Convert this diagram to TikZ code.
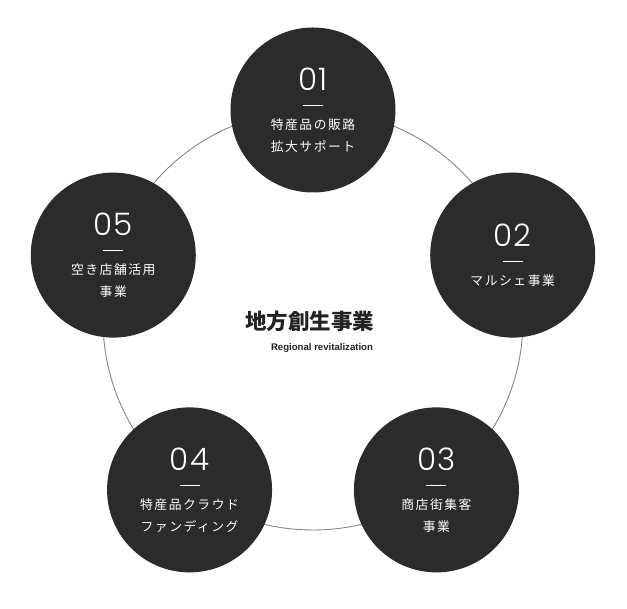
\documentclass[tikz,border=0pt]{standalone}
\usepackage{fontspec}
\setmainfont{Noto Sans CJK JP}
\newfontfamily\numfont{Poppins}[UprightFont=* Light]
\newfontfamily\latinfont{Liberation Sans}

\begin{document}
\begin{tikzpicture}[x=1pt,y=1pt,
  tappa/.style={circle, fill=colDisco, text=white, minimum size=165pt, inner sep=0pt,
    align=center, font=\fontsize{12.8}{22}\selectfont\addfontfeature{LetterSpace=12}},
  anello/.style={draw=colAnello, line width=0.9pt}]

% Colori
\definecolor{colDisco}{HTML}{2B2B2B}
\definecolor{colAnello}{HTML}{858585}
\definecolor{colTitolo}{HTML}{222222}

% Raggio del cerchio grande
\def\R{210}

% Numero e trattino
\newcommand{\numero}[1]{{\numfont\fontsize{31}{31}\selectfont\addfontfeature{LetterSpace=4}#1}\\[-2pt]\rule[4pt]{20pt}{1.4pt}\\[-3pt]}

\useasboundingbox (-313,-289) rectangle (314,320);

% Cerchio grande
\coordinate (centro) at (0,0);
\draw[anello] (centro) circle (\R);

% Titolo
\node[font=\fontsize{21.5}{21.5}\selectfont\bfseries, text=colTitolo] (titolo) at (-3,-1) {地方創生事業};
\node[font=\latinfont\fontsize{9.6}{9.6}\selectfont\bfseries, text=colTitolo] (sottotitolo) at (9,-28) {Regional revitalization};

% Tappe
\node[tappa] (t1) at (90:\R)   {\numero{01}特産品の販路\\拡大サポート};
\node[tappa] (t2) at (18:\R)   {\numero{02}マルシェ事業};
\node[tappa] (t3) at (-54:\R)  {\numero{03}商店街集客\\事業};
\node[tappa] (t4) at (-126:\R) {\numero{04}特産品クラウド\\ファンディング};
\node[tappa] (t5) at (162:\R)  {\numero{05}空き店舗活用\\事業};

\end{tikzpicture}
\end{document}
